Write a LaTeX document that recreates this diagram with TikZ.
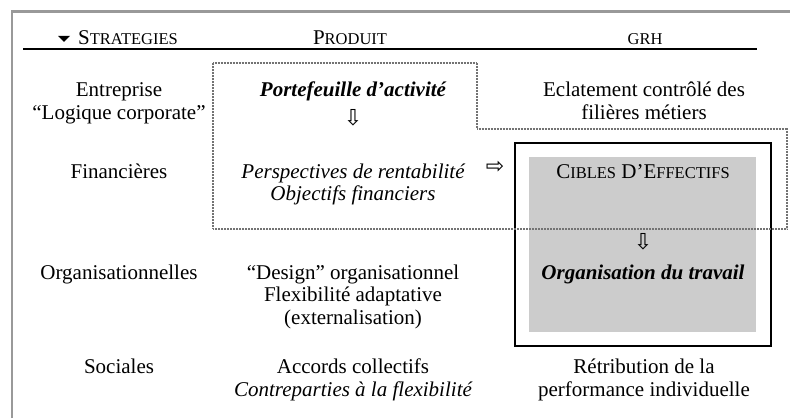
\documentclass[tikz,border=0pt]{standalone}
\usepackage{fontspec}
\setmainfont{Liberation Serif}
\newfontfamily\symfont{DejaVu Sans}
\newcommand{\smc}[1]{{\fontsize{16.5}{18}\selectfont #1}}

\begin{document}
\begin{tikzpicture}[x=1pt,y=1pt]
\definecolor{fillColor}{RGB}{255,255,255}
\definecolor{frameColor}{gray}{0.6}
\definecolor{boxColor}{gray}{0.8}
\definecolor{dotColor}{gray}{0.45}
\tikzset{cell/.style={anchor=base,inner sep=0pt,outer sep=0pt,font=\fontsize{21}{22.5}\selectfont},
  sym/.style={inner sep=0pt,outer sep=0pt,font=\symfont\fontsize{22}{22}\selectfont},
  dotline/.style={draw=dotColor,line width=1.8pt,dash pattern=on 1pt off 0.5pt}}
\path[use as bounding box,fill=fillColor] (0,0) rectangle (790,418);

% cadre et en-tete
\path[draw=frameColor,line width=2.5pt] (12,0) -- (12,406.5) -- (790,406.5);
\path[draw=black,line width=1.3pt] (23,369) -- (757,369);
\path[fill=black] (58,382) -- (70,382) -- (64,376) -- cycle;

% zone GRH
\path[fill=boxColor] (529,261) rectangle (756,86);
\path[draw=black,line width=1.6pt] (515,275) rectangle (771,72);
\path[dotline] (213,355) -- (477,355) -- (477,289) -- (787,289) -- (787,189) -- (213,189) -- cycle;

\node[cell] (strat) at (128,373) {S\smc{TRATEGIES}};
\node[cell] (prod) at (350,373) {P\smc{RODUIT}};
\node[cell] (grh) at (645,373) {\smc{GRH}};

\node[cell] (ent) at (119,321) {Entreprise};
\node[cell] (logi) at (119,298) {“Logique corporate”};
\node[cell] (porte) at (353,321) {\bfseries\itshape Portefeuille d’activité};
\node[sym] (flA) at (353,300) {⇩};
\node[cell] (ecla) at (644,321) {Eclatement contrôlé des};
\node[cell] (fili) at (644,298) {filières métiers};

\node[cell] (fin) at (119,239) {Financières};
\node[cell] (persp) at (353,239) {\itshape Perspectives de rentabilité};
\node[cell] (obj) at (353,217) {\itshape Objectifs financiers};
\node[sym] (flB) at (495,251) {⇨};
\node[cell] (cibles) at (643,239) {C\smc{IBLES} D’E\smc{FFECTIFS}};

\node[sym] (flC) at (643,176) {⇩};
\node[cell] (orgs) at (119,138) {Organisationnelles};
\node[cell] (design) at (353,138) {“Design” organisationnel};
\node[cell] (flex) at (353,116) {Flexibilité adaptative};
\node[cell] (ext) at (353,93) {(externalisation)};
\node[cell] (orgt) at (643,138) {\bfseries\itshape Organisation du travail};

\node[cell] (soc) at (119,45) {Sociales};
\node[cell] (acc) at (353,45) {Accords collectifs};
\node[cell] (contr) at (353,22) {\itshape Contreparties à la flexibilité};
\node[cell] (retr) at (644,45) {Rétribution de la};
\node[cell] (perf) at (644,22) {performance individuelle};
\end{tikzpicture}
\end{document}
